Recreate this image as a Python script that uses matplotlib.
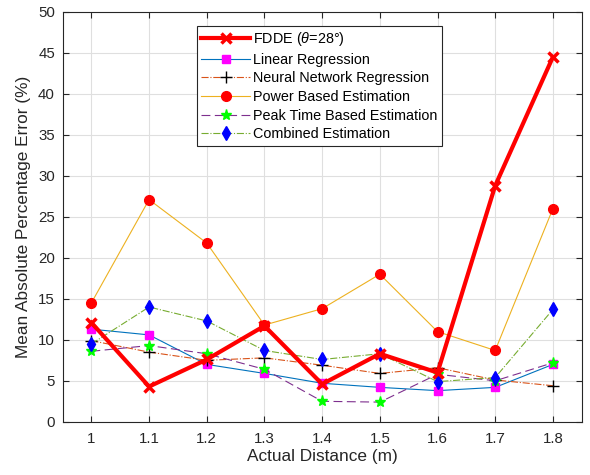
import matplotlib
matplotlib.use("Agg")
import matplotlib.pyplot as plt

plt.rcParams['font.family'] = ['Liberation Sans', 'DejaVu Sans']
plt.rcParams['mathtext.fontset'] = 'custom'
plt.rcParams['mathtext.it'] = 'Liberation Sans:italic'

distance = [1.0, 1.1, 1.2, 1.3, 1.4, 1.5, 1.6, 1.7, 1.8]
fdde = [12.1, 4.3, 7.6, 11.7, 4.6, 8.3, 6.0, 28.8, 44.5]
linear = [11.3, 10.6, 7.0, 5.9, 4.7, 4.2, 3.8, 4.2, 7.0]
neural = [9.9, 8.5, 7.5, 7.8, 6.9, 5.9, 6.6, 5.1, 4.4]
power = [14.5, 27.1, 21.8, 11.8, 13.8, 18.0, 11.0, 8.7, 26.0]
peak = [8.6, 9.3, 8.3, 6.4, 2.5, 2.4, 5.8, 5.0, 7.2]
combined = [9.5, 14.0, 12.3, 8.7, 7.6, 8.3, 4.9, 5.4, 13.7]
xticks = [1, 1.1, 1.2, 1.3, 1.4, 1.5, 1.6, 1.7, 1.8]
xticklabels = ['1', '1.1', '1.2', '1.3', '1.4', '1.5', '1.6', '1.7', '1.8']
yticks = list(range(0, 51, 5))

fig = plt.figure(figsize=(5.9, 4.75), dpi=100)
ax = fig.add_axes([0.106, 0.112, 0.880, 0.863])

ax.plot(distance, fdde, '-x', color='#FF0000', lw=3, ms=7, mew=2.5,
        label=r'FDDE ($\theta$=28°)', zorder=5)
ax.plot(distance, linear, '-s', color='#0072BD', lw=0.8, mfc='#FF00FF', mec='#FF00FF', ms=6,
        label='Linear Regression')
ax.plot(distance, neural, '-.+', color='#D95319', lw=0.8, mfc='k', mec='k', ms=9, mew=1.0,
        label='Neural Network Regression')
ax.plot(distance, power, '-o', color='#EDB120', lw=0.8, mfc='#FF0000', mec='#FF0000', ms=7,
        label='Power Based Estimation')
ax.plot(distance, peak, '--*', color='#7E2F8E', lw=0.8, mfc='#00FF00', mec='#00FF00', ms=8, mew=1.0,
        dashes=(8, 4), label='Peak Time Based Estimation')
ax.plot(distance, combined, '-.d', color='#77AC30', lw=0.8, mfc='#0000FF', mec='#0000FF', ms=7,
        label='Combined Estimation')

ax.set_xlim(0.95, 1.85)
ax.set_ylim(0, 50)
ax.set_xticks(xticks)
ax.set_xticklabels(xticklabels)
ax.set_yticks(yticks)
ax.grid(True, color='#DFDFDF', lw=0.8)
ax.set_axisbelow(True)
ax.tick_params(direction='in', top=True, right=True, labelsize=10.8, colors='#262626', length=4)
ax.tick_params(axis='x', pad=7.5)
ax.tick_params(axis='y', pad=5.5)
for s in ax.spines.values():
    s.set_color('#262626')
    s.set_linewidth(0.8)
ax.set_xlabel('Actual Distance (m)', fontsize=12.4, color='#262626', labelpad=2)
ax.set_ylabel('Mean Absolute Percentage Error (%)', fontsize=12.4, color='#262626', labelpad=5)

leg = ax.legend(loc='upper left', bbox_to_anchor=(0.259, 0.966), borderaxespad=0, fontsize=10.4,
                frameon=True, fancybox=False, edgecolor='#262626', framealpha=1,
                handlelength=3.4, labelspacing=0.32, borderpad=0.3, handletextpad=0.2)
leg.get_frame().set_linewidth(0.8)

fig.savefig('out.png', dpi=100)
